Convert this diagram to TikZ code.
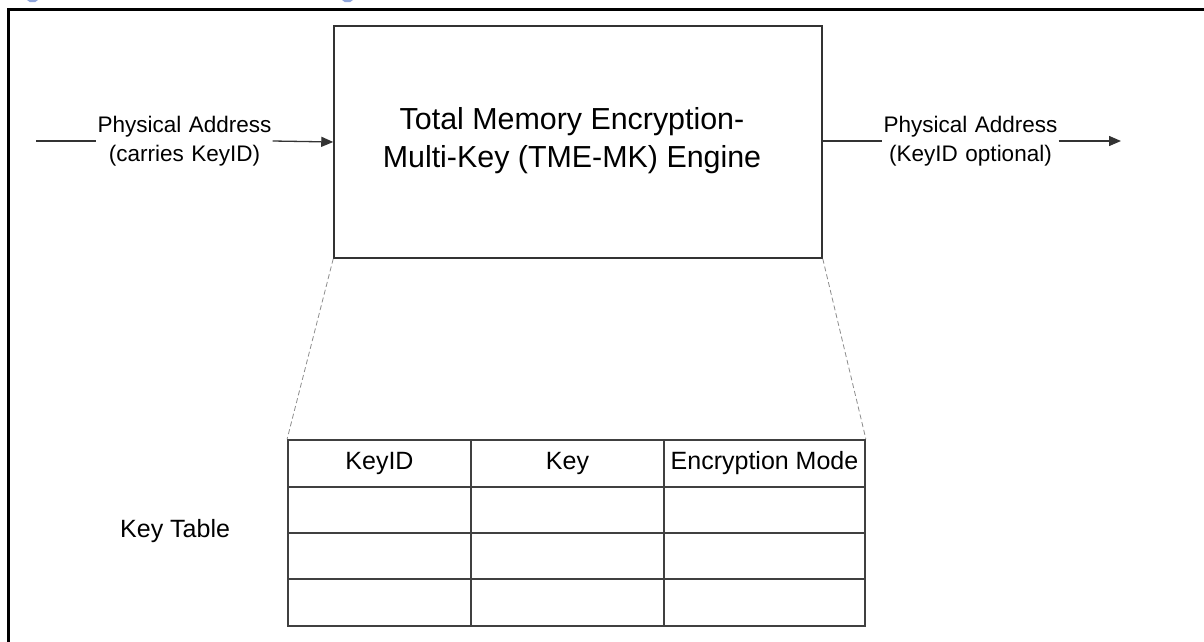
\documentclass[tikz,border=0pt]{standalone}
\usepackage{fontspec}
\setmainfont{Liberation Sans}
\usetikzlibrary{arrows.meta}
\begin{document}
\begin{tikzpicture}[x=1pt,y=-1pt,
  engbox/.style={draw=black!80,line width=1.5pt,minimum width=488pt,minimum height=232pt,inner sep=0pt},
  titletxt/.style={anchor=base,inner sep=0pt,font=\fontsize{30.4}{36}\selectfont},
  sigtxt/.style={align=center,inner sep=0pt,text width=176pt,font=\fontsize{22.5}{29.5}\selectfont},
  conn/.style={draw=black!80,line width=1.3pt},
  arr/.style={conn,-{Triangle[length=12pt,width=10pt]}},
  cell/.style={draw=black!75,line width=1.8pt,inner sep=0pt,font=\fontsize{25}{30}\selectfont},
  zoomline/.style={draw=black!45,line width=0.8pt,dash pattern=on 5pt off 3pt},
  frame/.style={draw=black,line width=3pt}
]
\useasboundingbox (0,0) rectangle (1204,642);
% outer frame (partially visible)
\draw[frame] (8.5,642) -- (8.5,9.5) -- (1204,9.5);
% fragments of caption descenders above the frame
\fill[cyan!40!blue!45] (27,0) -- (38,0) -- (35,2.2) -- (30,2.2) -- cycle;
\fill[cyan!40!blue!45] (342,0) -- (353,0) -- (350,2.2) -- (345,2.2) -- cycle;

% engine box
\node[engbox] (engine) at (578,142) {};
\node[titletxt] (title1) at (572,129) {Total Memory Encryption-};
\node[titletxt] (title2) at (572,167) {Multi-Key (TME-MK) Engine};

% input signal
\coordinate (inStart) at (36,141);
\node[sigtxt] (inlab) at (184.5,141) {Physical Address\\(carries KeyID)};
\draw[conn] (inStart) -- (inlab.west);
\draw[arr] (inlab.east) -- (engine.west);

% output signal
\coordinate (outEnd) at (1121,141);
\node[sigtxt] (outlab) at (970.5,141) {Physical Address\\(KeyID optional)};
\draw[conn] (engine.east |- outlab.west) -- (outlab.west);
\draw[arr] (outlab.east) -- (outEnd);

% key table
\node[cell,minimum width=183pt,minimum height=47pt] (h1) at (379.5,463.5) {KeyID};
\node[cell,minimum width=193pt,minimum height=47pt] (h2) at (567.5,463.5) {Key};
\node[cell,minimum width=201pt,minimum height=47pt] (h3) at (764.5,463.5) {Encryption Mode};
\foreach \r/\yc/\hh in {1/510/46,2/556/46,3/602.5/47}{
  \node[cell,minimum width=183pt,minimum height=\hh pt] (r\r c1) at (379.5,\yc) {};
  \node[cell,minimum width=193pt,minimum height=\hh pt] (r\r c2) at (567.5,\yc) {};
  \node[cell,minimum width=201pt,minimum height=\hh pt] (r\r c3) at (764.5,\yc) {};
}
\node[anchor=base west,inner sep=0pt,font=\fontsize{25}{30}\selectfont] (ktlabel) at (120,537) {Key Table};

% zoom lines
\draw[zoomline] (engine.south west) -- (h1.north west);
\draw[zoomline] (engine.south east) -- (h3.north east);
\end{tikzpicture}
\end{document}
